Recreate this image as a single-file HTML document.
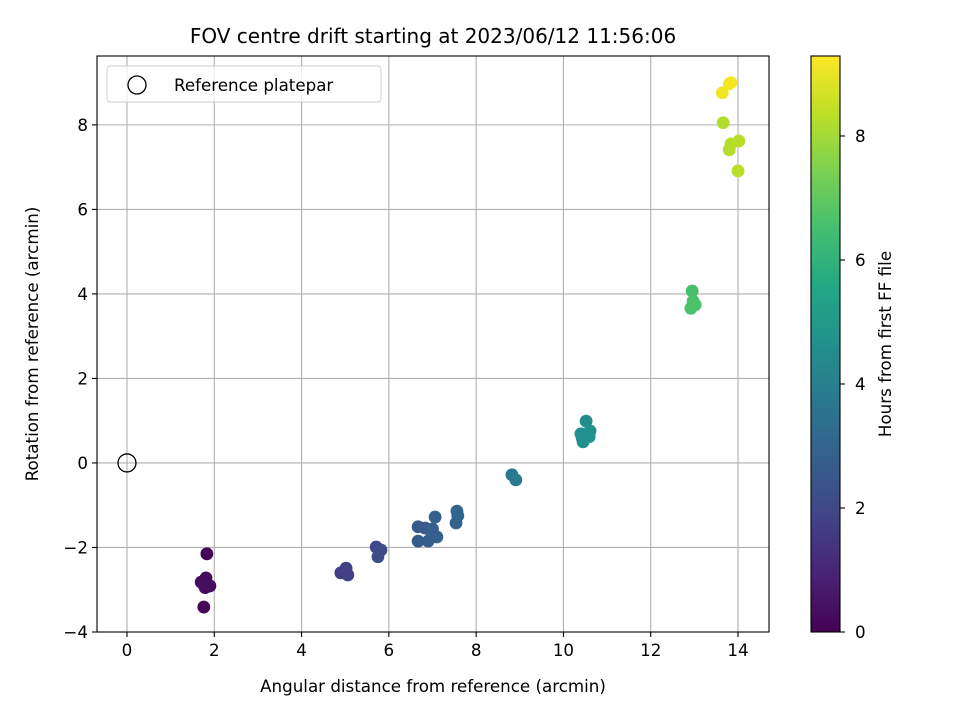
<!DOCTYPE html>
<html><head><meta charset="utf-8"><style>
html,body{margin:0;padding:0;background:#fff;}
svg text{font-family:"DejaVu Sans","Liberation Sans",sans-serif;fill:#000;}
</style></head><body>
<svg id="chart" width="960" height="720" xmlns="http://www.w3.org/2000/svg">
<defs>
<linearGradient id="vir" x1="0" y1="1" x2="0" y2="0">
<stop offset="0" stop-color="#440154"/><stop offset="0.1" stop-color="#482475"/><stop offset="0.2" stop-color="#414487"/><stop offset="0.3" stop-color="#355f8d"/><stop offset="0.4" stop-color="#2a788e"/><stop offset="0.5" stop-color="#21918c"/><stop offset="0.6" stop-color="#22a884"/><stop offset="0.7" stop-color="#44bf70"/><stop offset="0.8" stop-color="#7ad151"/><stop offset="0.9" stop-color="#bddf26"/><stop offset="1" stop-color="#fde725"/>
</linearGradient>
</defs>
<text x="433" y="43" font-size="20" text-anchor="middle">FOV centre drift starting at 2023/06/12 11:56:06</text>
<g id="grid"></g>
<g id="points"></g>
<rect x="97" y="56" width="672" height="576" fill="none" stroke="#000" stroke-width="1.1"/>
<g id="xticks"></g><g id="yticks"></g>
<text x="433" y="692" font-size="16.7" text-anchor="middle">Angular distance from reference (arcmin)</text>
<text transform="translate(38,344) rotate(-90)" font-size="16.7" text-anchor="middle">Rotation from reference (arcmin)</text>
<g>
<rect x="107" y="66" width="274" height="36" rx="3" fill="#fff" fill-opacity="0.8" stroke="#ccc"/>
<circle cx="137" cy="85" r="9" fill="none" stroke="#000" stroke-width="1.3"/>
<text x="174" y="91" font-size="16.7">Reference platepar</text>
</g>
<rect x="811" y="56" width="29" height="576" fill="url(#vir)" stroke="#000" stroke-width="1.1"/>
<g id="cticks"></g>
<text transform="translate(891,344) rotate(-90)" font-size="16.7" text-anchor="middle">Hours from first FF file</text>
</svg>
<script>
const xTicks=[0,2,4,6,8,10,12,14];
const yTicks=[-4,-2,0,2,4,6,8];
const cTicks=[0,2,4,6,8];
const xs=[1.83,1.76,1.70,1.81,1.90,1.79,1.76,4.90,5.02,5.06,5.71,5.82,5.75,6.67,6.83,6.67,6.90,7.00,7.10,7.06,7.54,7.56,7.58,6.99,8.82,8.91,10.52,10.43,10.45,10.61,10.54,10.40,10.59,12.95,12.97,12.92,13.02,13.66,13.80,13.84,14.02,14.00,13.64,13.80,13.84];
const ys=[-2.15,-3.41,-2.82,-2.72,-2.91,-2.95,-2.88,-2.60,-2.49,-2.65,-1.99,-2.06,-2.22,-1.51,-1.54,-1.85,-1.85,-1.56,-1.75,-1.28,-1.42,-1.14,-1.25,-1.66,-0.28,-0.40,0.99,0.59,0.50,0.76,0.66,0.69,0.62,4.07,3.83,3.66,3.74,8.05,7.41,7.55,7.62,6.91,8.76,8.97,9.00];
const hrs=[0.1,0.15,0.2,0.25,0.3,0.3,0.35,1.7,1.75,1.8,2.0,2.05,2.1,2.6,2.65,2.7,2.75,2.8,2.85,2.9,2.95,3.0,3.0,2.8,3.7,3.75,4.55,4.6,4.6,4.65,4.65,4.7,4.7,6.55,6.6,6.6,6.65,8.2,8.25,8.25,8.3,8.3,9.1,9.15,9.2];
const X0=97,X1=769,Y0=632,Y1=56,xmin=-0.687,xmax=14.71,ymin=-4,ymax=9.63,hmax=9.29;
const sx=v=>X0+(v-xmin)/(xmax-xmin)*(X1-X0);
const sy=v=>Y0-(v-ymin)/(ymax-ymin)*(Y0-Y1);
const sc=v=>632-v/hmax*576;
const vir=["#440154","#482475","#414487","#355f8d","#2a788e","#21918c","#22a884","#44bf70","#7ad151","#bddf26","#fde725"];
function hex(c){return [1,3,5].map(i=>parseInt(c.substr(i,2),16));}
function cmap(t){t=Math.max(0,Math.min(1,t));const f=t*10,i=Math.min(9,Math.floor(f)),r=f-i;const a=hex(vir[i]),b=hex(vir[i+1]);return "rgb("+a.map((v,k)=>Math.round(v+(b[k]-v)*r)).join(",")+")";}
const NS="http://www.w3.org/2000/svg";
function mk(tag,attrs,parent){const e=document.createElementNS(NS,tag);for(const k in attrs)e.setAttribute(k,attrs[k]);parent.appendChild(e);return e;}
const grid=document.getElementById("grid"),xt=document.getElementById("xticks"),yt=document.getElementById("yticks"),ct=document.getElementById("cticks"),pts=document.getElementById("points");
xTicks.forEach(v=>{const x=sx(v);
const g=mk("line",{x1:x,x2:x,y1:Y1,y2:Y0,stroke:"#b0b0b0","stroke-width":1.1},grid);


const t=mk("line",{x1:x,x2:x,y1:Y0,y2:Y0+5,stroke:"#000","stroke-width":1.1},xt);


const l=mk("text",{x:x,y:Y0+24,"font-size":16.7,"text-anchor":"middle"},xt);l.textContent=v;

});
yTicks.forEach(v=>{const y=sy(v);
const g=mk("line",{x1:X0,x2:X1,y1:y,y2:y,stroke:"#b0b0b0","stroke-width":1.1},grid);


const t=mk("line",{x1:X0-5,x2:X0,y1:y,y2:y,stroke:"#000","stroke-width":1.1},yt);


const l=mk("text",{x:X0-9,y:y+6,"font-size":16.7,"text-anchor":"end"},yt);l.textContent=v<0?"\u2212"+(-v):v;

});
cTicks.forEach(v=>{const y=sc(v);
const t=mk("line",{x1:840,x2:845,y1:y,y2:y,stroke:"#000","stroke-width":1.1},ct);


const l=mk("text",{x:855,y:y+6,"font-size":16.7},ct);l.textContent=v;

});
xs.forEach((v,i)=>{const c=mk("circle",{cx:sx(v),cy:sy(ys[i]),r:6.4,fill:cmap(hrs[i]/hmax)},pts);

});
const ref=mk("circle",{cx:sx(0),cy:sy(0),r:9,fill:"none",stroke:"#000","stroke-width":1.3},pts);


</script>
</body></html>
